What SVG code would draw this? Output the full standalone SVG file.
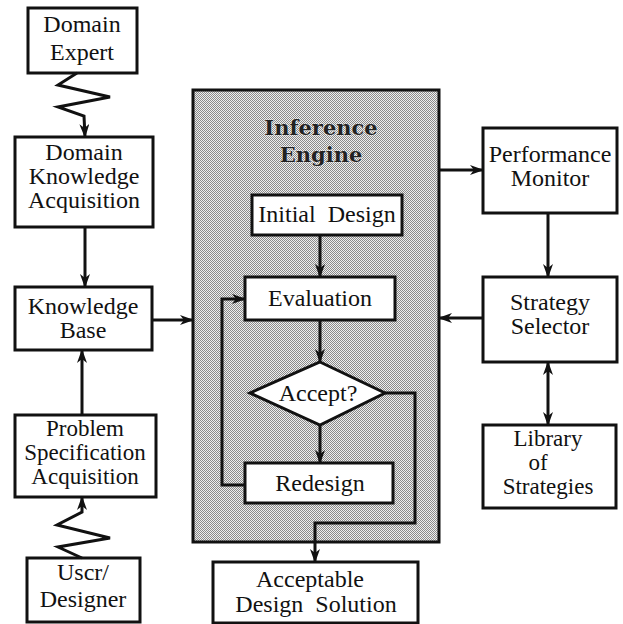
<svg xmlns="http://www.w3.org/2000/svg" width="623" height="624" viewBox="0 0 623 624">
<style>
.box{fill:#fff;stroke:#111;stroke-width:3}
.t{font-family:'Liberation Serif','Times New Roman',serif;font-size:24px;fill:#111;text-anchor:middle}
.s{font-size:23px}
.tb{font-family:'DejaVu Serif',serif;font-size:21px;font-weight:bold;fill:#222;text-anchor:middle;stroke:#fff;stroke-width:0.6;paint-order:stroke}
.c{fill:none;stroke:#111;stroke-width:3}
</style>
<defs>
<pattern id="dots" width="2" height="2" patternUnits="userSpaceOnUse">
<rect width="2" height="2" fill="#eeeeee"/>
<rect width="1" height="1" fill="#8a8a8a"/>
<rect x="1" y="1" width="1" height="1" fill="#8a8a8a"/>
</pattern>
<marker id="ah" viewBox="0 0 14 10" refX="13" refY="5" markerWidth="14" markerHeight="10" orient="auto-start-reverse" markerUnits="userSpaceOnUse">
<path d="M0,0 L14,5 L0,10 L4,5 z" fill="#111"/>
</marker>
</defs>

<g id="engine">
<rect x="193" y="90" width="246" height="452" fill="url(#dots)" stroke="#111" stroke-width="3"/>
<text class="tb" x="321" y="135">Inference</text>
<text class="tb" x="321" y="162">Engine</text>
</g>

<g id="domain-expert">
<rect class="box" x="28" y="8" width="109" height="65"/>
<text class="t" x="82" y="32">Domain</text>
<text class="t" x="82" y="60">Expert</text>
</g>

<g id="dka">
<rect class="box" x="15" y="137" width="138" height="90"/>
<text class="t" x="84" y="160">Domain</text>
<text class="t" x="84" y="184">Knowledge</text>
<text class="t" x="84" y="208">Acquisition</text>
</g>

<g id="knowledge-base">
<rect class="box" x="15" y="287" width="137" height="63"/>
<text class="t" x="83" y="314">Knowledge</text>
<text class="t" x="83" y="338">Base</text>
</g>

<g id="psa">
<rect class="box" x="15" y="415" width="141" height="82"/>
<text class="t s" x="85" y="436">Problem</text>
<text class="t s" x="85" y="460">Specification</text>
<text class="t s" x="85" y="484">Acquisition</text>
</g>

<g id="user-designer">
<rect class="box" x="27" y="558" width="113" height="64"/>
<text class="t" x="83" y="580">Uscr/</text>
<text class="t" x="83" y="607">Designer</text>
</g>

<g id="initial-design">
<rect class="box" x="252" y="195" width="150" height="40"/>
<text class="t" x="327" y="222" xml:space="preserve">Initial  Design</text>
</g>

<g id="evaluation">
<rect class="box" x="245" y="277" width="150" height="43"/>
<text class="t" x="320" y="306">Evaluation</text>
</g>

<g id="accept">
<polygon points="320,362 385,393 320,425 250,393" fill="#fff" stroke="#111" stroke-width="3"/>
<text class="t" x="318" y="401">Accept?</text>
</g>

<g id="redesign">
<rect class="box" x="245" y="463" width="148" height="40"/>
<text class="t" x="320" y="491">Redesign</text>
</g>

<g id="acceptable-solution">
<rect class="box" x="213" y="562" width="205" height="61"/>
<text class="t" x="310" y="587">Acceptable</text>
<text class="t" x="316" y="612" xml:space="preserve">Design  Solution</text>
</g>

<g id="performance-monitor">
<rect class="box" x="483" y="128" width="134" height="85"/>
<text class="t" x="550" y="162">Performance</text>
<text class="t" x="550" y="186">Monitor</text>
</g>

<g id="strategy-selector">
<rect class="box" x="483" y="277" width="134" height="85"/>
<text class="t" x="550" y="310">Strategy</text>
<text class="t" x="550" y="334">Selector</text>
</g>

<g id="library">
<rect class="box" x="483" y="425" width="133" height="83"/>
<text class="t s" x="548" y="446">Library</text>
<text class="t s" x="538" y="470">of</text>
<text class="t s" x="548" y="494">Strategies</text>
</g>

<g id="connectors">
<polyline class="c" points="77,73 58,85 110,97 58,107 84,116 85,137" marker-end="url(#ah)"/>
<line class="c" x1="85" y1="227" x2="85" y2="287" marker-end="url(#ah)"/>
<line class="c" x1="82" y1="415" x2="82" y2="350" marker-end="url(#ah)"/>
<polyline class="c" points="82,558 58,547 110,538 57,525 82,512 82,497" marker-end="url(#ah)"/>
<line class="c" x1="152" y1="320" x2="193" y2="320" marker-end="url(#ah)"/>
<line class="c" x1="439" y1="170" x2="483" y2="170" marker-end="url(#ah)"/>
<line class="c" x1="548" y1="213" x2="548" y2="277" marker-end="url(#ah)"/>
<line class="c" x1="483" y1="318" x2="439" y2="318" marker-end="url(#ah)"/>
<line class="c" x1="548" y1="362" x2="548" y2="425" marker-start="url(#ah)" marker-end="url(#ah)"/>
<line class="c" x1="320" y1="235" x2="320" y2="277" marker-end="url(#ah)"/>
<line class="c" x1="320" y1="320" x2="320" y2="362" marker-end="url(#ah)"/>
<line class="c" x1="320" y1="425" x2="320" y2="463" marker-end="url(#ah)"/>
<polyline class="c" points="245,485 222,485 222,299 245,299" marker-end="url(#ah)"/>
<polyline class="c" points="385,393 415,393 415,523 315,523 315,562" marker-end="url(#ah)"/>
</g>
</svg>
